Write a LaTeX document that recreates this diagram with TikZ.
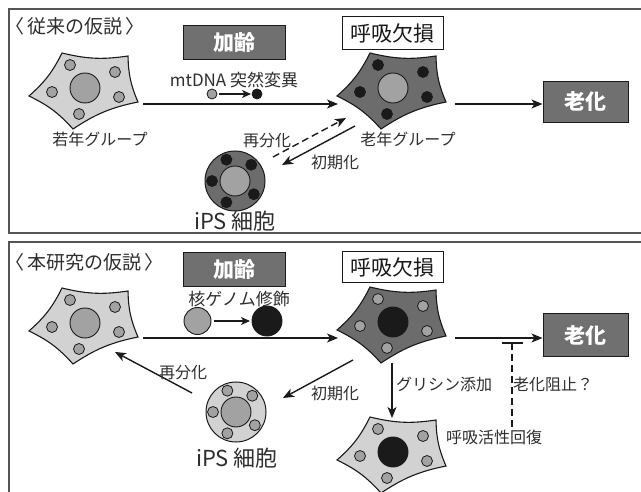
\documentclass[tikz,border=0pt]{standalone}
\usepackage{fontspec}
\setmainfont{Noto Sans CJK JP}
\usetikzlibrary{arrows.meta}
\definecolor{txt}{HTML}{2E2E2E}
\definecolor{lightcell}{HTML}{D2D2D2}
\definecolor{darkcell}{HTML}{6C6C6C}
\definecolor{midgray}{HTML}{A2A2A2}
\definecolor{inkblack}{HTML}{1A1A1A}
\definecolor{boxgray}{HTML}{707070}
\definecolor{framegray}{HTML}{555555}
\tikzset{
  panel/.style={draw=framegray, line width=1.6pt},
  label/.style={text=txt, font=\fontsize{16}{16}\selectfont, inner sep=0pt},
  title/.style={text=txt, font=\fontsize{19}{19}\selectfont, inner sep=0pt, anchor=west},
  darkbox/.style={draw=inkblack, line width=1pt, fill=boxgray, text=white,
    font=\fontsize{21}{21}\selectfont\bfseries, inner sep=0pt},
  whitebox/.style={draw=inkblack, line width=1pt, fill=white, text=inkblack,
    font=\fontsize{21}{21}\selectfont, inner sep=0pt, minimum width=101pt, minimum height=33pt},
  arr/.style={draw=inkblack, line width=1.4pt, -{Stealth[length=11pt,width=9pt,inset=3pt]}},
  smallarr/.style={draw=inkblack, line width=1.3pt, -{Stealth[length=9pt,width=8pt,inset=2.5pt]}},
  dasharr/.style={arr, dash pattern=on 7pt off 4pt},
  blockline/.style={draw=inkblack, line width=1.4pt, dash pattern=on 7pt off 4pt},
  % a cell: concave pentagon with nucleus and five organelles
  pics/cellbody/.style args={#1/#2/#3}{code={
    \draw[draw=inkblack, line width=1.1pt, fill=#1]
      (-23,-35) to[bend right=11] (43,-32) to[bend right=11] (53,14)
      to[bend right=11] (-12,41) to[bend right=11] (-56,8) to[bend right=11] cycle;
    \draw[draw=inkblack, line width=0.9pt, fill=#2] (0,0) circle (15);
    \foreach \p in {(-15,-23),(30,-16),(-33,4),(34,9),(-6,26)}
      \draw[draw=inkblack, line width=0.8pt, fill=#3] \p circle (5.5);
  }},
  % an iPS cell: round cell, nucleus and a ring of organelles
  pics/ipscell/.style args={#1/#2/#3}{code={
    \draw[draw=inkblack, line width=1pt, fill=#1] (0,0) circle (30);
    \draw[draw=inkblack, line width=0.9pt, fill=#2] (0,0) circle (15);
    \foreach \a in {-112,-45,180,35,112}
      \draw[draw=inkblack, line width=0.8pt, fill=#3] (\a:23) circle (5.5);
  }}
}
\begin{document}
\begin{tikzpicture}[x=1pt,y=-1pt]
\useasboundingbox (0,0) rectangle (641,492);
\clip (0,0) rectangle (641,492);
\fill[white] (0,0) rectangle (641,492);

% ---------- upper panel: conventional hypothesis ----------
\draw[panel] (9,9) rectangle (660,233);
\node[title] (t1) at (5,26) {〈\kern0.15em 従来の仮説\kern0.2em 〉};

\coordinate (young1) at (85,88);
\coordinate (old1) at (393,88);
\coordinate (ips1) at (235,181);
\pic at (young1) {cellbody={lightcell/midgray/midgray}};
\pic at (old1) {cellbody={darkcell/midgray/inkblack}};
\pic at (ips1) {ipscell={darkcell/midgray/inkblack}};

\node[darkbox, minimum width=102pt, minimum height=34pt] (age1) at (234,43) {加齢};
\node[label, font=\fontsize{17}{17}\selectfont] (mt1) at (234,80) {mtDNA 突然変異};
\draw[draw=inkblack, line width=0.8pt, fill=midgray] (212,94) circle (5) coordinate (mtA);
\draw[draw=inkblack, line width=0.8pt, fill=inkblack] (257,94) circle (5) coordinate (mtB);
\coordinate (mtAr) at (219,94);
\coordinate (mtBl) at (251,94);
\draw[smallarr] (mtAr) -- (mtBl);

\node[whitebox] (resp1) at (392.5,33.5) {呼吸欠損};
\node[darkbox, minimum width=85pt, minimum height=41pt] (sen1) at (585.5,102) {老化};

\node[label] (ylab1) at (100,139) {若年グループ};
\node[label] (olab1) at (408,139) {老年グループ};
\node[label, font=\fontsize{22}{22}\selectfont] (ipslab1) at (235,221) {iPS 細胞};

\coordinate (y1out) at (143,104);
\coordinate (o1in) at (338,104);
\coordinate (o1out) at (455,104);
\draw[arr] (y1out) -- (o1in);
\draw[arr] (o1out) -- (sen1.west |- o1out);

\coordinate (ips1a) at (273,157);
\coordinate (old1a) at (346,118);
\coordinate (old1b) at (355,126);
\coordinate (ips1b) at (282,165);
\draw[dasharr] (ips1a) -- (old1a);
\draw[arr] (old1b) -- (ips1b);
\node[label] (redif1) at (267,141) {再分化};
\node[label] (init1) at (335,162) {初期化};

% ---------- lower panel: hypothesis of this study ----------
\draw[panel] (9,242) rectangle (660,520);
\node[title] (t2) at (5,262) {〈\kern0.15em 本研究の仮説\kern0.2em 〉};

\coordinate (young2) at (85,323);
\coordinate (old2) at (393,322);
\coordinate (rec2) at (393,452);
\coordinate (ips2) at (236,412);
\pic at (young2) {cellbody={lightcell/midgray/midgray}};
\pic at (old2) {cellbody={darkcell/inkblack/midgray}};
\pic at (rec2) {cellbody={lightcell/inkblack/midgray}};
\pic at (ips2) {ipscell={lightcell/midgray/midgray}};

\node[darkbox, minimum width=102pt, minimum height=34pt] (age2) at (234,270) {加齢};
\node[label, font=\fontsize{17}{17}\selectfont] (nuc2) at (239,299) {核ゲノム修飾};
\draw[draw=inkblack, line width=0.9pt, fill=midgray] (197.5,321) circle (13.5) coordinate (ngA);
\draw[draw=inkblack, line width=0.9pt, fill=inkblack] (267,321) circle (15) coordinate (ngB);
\coordinate (ngAr) at (214,321);
\coordinate (ngBl) at (250,321);
\draw[smallarr] (ngAr) -- (ngBl);

\node[whitebox, minimum height=31pt] (resp2) at (392.5,267.5) {呼吸欠損};
\node[darkbox, minimum width=85pt, minimum height=43pt] (sen2) at (585.5,335) {老化};

\node[label, font=\fontsize{22}{22}\selectfont] (ipslab2) at (237,458) {iPS 細胞};

\coordinate (y2out) at (143,338);
\coordinate (o2in) at (338,338);
\coordinate (o2out) at (455,338);
\draw[arr] (y2out) -- (o2in);
\draw[arr] (o2out) -- (sen2.west |- o2out);

% inhibition of ageing by restored respiration
\coordinate (barL) at (502,343);
\coordinate (barR) at (523,343);
\coordinate (barM) at (512,343);
\coordinate (blockEnd) at (512,428);
\draw[draw=inkblack, line width=1.6pt] (barL) -- (barR);
\draw[blockline] (barM) -- (blockEnd);
\node[label] (stop2) at (553,384) {老化阻止？};

% glycine treatment
\coordinate (o2down) at (392,363);
\coordinate (rec2top) at (392,418);
\draw[arr] (o2down) -- (rec2top);
\node[label] (gly2) at (444,384) {グリシン添加};
\node[label] (recov2) at (494,437) {呼吸活性回復};

% reprogramming and redifferentiation
\coordinate (ips2a) at (192,393);
\coordinate (young2a) at (115,352);
\coordinate (old2b) at (353,360);
\coordinate (ips2b) at (283,398);
\draw[arr] (ips2a) -- (young2a);
\draw[arr] (old2b) -- (ips2b);
\node[label] (redif2) at (183,373) {再分化};
\node[label] (init2) at (335,393) {初期化};
\end{tikzpicture}
\end{document}
